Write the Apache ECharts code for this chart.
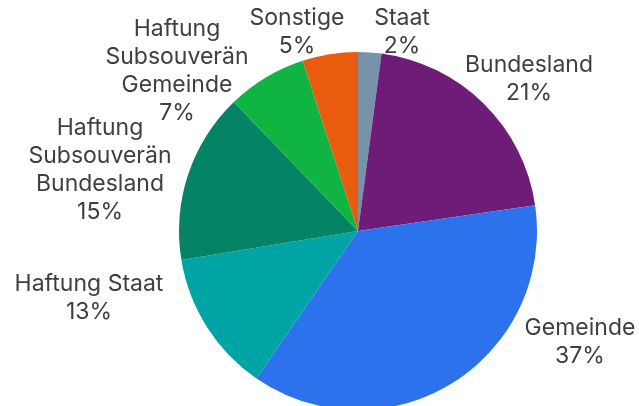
<!DOCTYPE html>
<html>
<head>
<meta charset="utf-8">
<script src="https://cdn.jsdelivr.net/npm/echarts@6/dist/echarts.min.js"></script>
<style>
  html, body { margin: 0; padding: 0; background: #fff; }
  #chart { width: 639px; height: 406px; }
</style>
</head>
<body>
<div id="chart"></div>
<script>
// slices, clockwise from 12 o'clock
const categories = [
  'Staat',
  'Bundesland',
  'Gemeinde',
  'Haftung Staat',
  'Haftung\nSubsouverän\nBundesland',
  'Haftung\nSubsouverän\nGemeinde',
  'Sonstige'
]
// shares in % (labels show them rounded)
const shares = [2.1, 20.6, 36.9, 12.8, 15.4, 7.2, 5.0]
const colors = ['#7892aa', '#6f1c79', '#2b72ec', '#00a4a4', '#048464', '#10b443', '#e95c0f']

// where each label block is centred (layout only)
const labelCentres = [[402, 32], [529, 79], [580, 342], [89, 298], [100, 170], [177, 71], [297, 32]]

const chart = echarts.init(document.getElementById('chart'))

chart.setOption({
  animation: false,
  color: colors,
  series: [{
    type: 'pie',
    center: [358, 231],
    radius: [0, 179],
    startAngle: 90,
    clockwise: true,
    avoidLabelOverlap: false,
    data: categories.map((name, i) => ({ name, value: shares[i] })),
    label: {
      show: true,
      position: 'outside',
      formatter: p => p.name + '\n' + Math.round(p.percent) + '%',
      fontFamily: 'Inter',
      fontSize: 23,
      lineHeight: 28,
      color: '#3f3f3f'
    },
    labelLine: { show: false },
    labelLayout: p => ({
      x: labelCentres[p.dataIndex][0],
      y: labelCentres[p.dataIndex][1],
      align: 'center',
      verticalAlign: 'middle'
    })
  }]
})

window.addEventListener('resize', () => chart.resize())
</script>
</body>
</html>
